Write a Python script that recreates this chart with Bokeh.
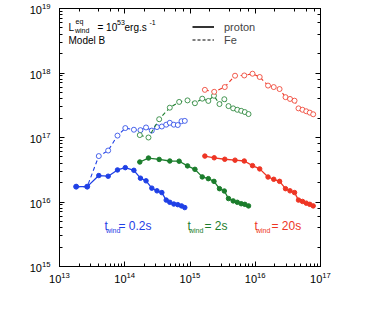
import math
from bokeh.plotting import figure
from bokeh.models import (Range1d, LogAxis, Label, Legend, LegendItem,
                          CustomJSTickFormatter, LogTicker)
from bokeh.embed import file_html
from bokeh.resources import INLINE

# ---------------- data ----------------
# shock radius grids (cm)
r_02s = [1.80e13, 2.66e13, 4.00e13, 5.57e13, 7.74e13, 1.02e14, 1.38e14, 1.74e14, 2.12e14,
         2.60e14, 3.12e14, 3.70e14, 4.32e14, 4.90e14, 5.65e14, 6.50e14, 7.41e14, 8.32e14]
r_2s = [1.70e14, 2.31e14, 3.37e14, 4.90e14, 6.82e14, 9.16e14, 1.19e15, 1.54e15, 1.91e15,
        2.33e15, 2.83e15, 3.36e15, 3.89e15, 4.59e15, 5.31e15, 6.10e15, 6.92e15, 7.89e15]
r_20s = [1.69e15, 2.35e15, 3.41e15, 4.90e15, 6.79e15, 9.08e15, 1.17e16, 1.57e16, 1.92e16,
         2.36e16, 2.91e16, 3.41e16, 4.00e16, 4.60e16, 5.30e16, 6.05e16, 6.85e16, 7.73e16]

# E_max^loss (eV), proton
Ep_02s = [1.73e16, 1.73e16, 2.57e16, 2.51e16, 3.14e16, 3.41e16, 3.10e16, 2.34e16, 2.13e16,
          1.64e16, 1.49e16, 1.40e16, 1.07e16, 9.9e15, 9.3e15, 9.1e15, 8.7e15, 8.2e15]
Ep_2s = [4.17e16, 4.80e16, 4.57e16, 4.32e16, 4.29e16, 3.63e16, 3.21e16, 2.45e16, 2.30e16,
         2.09e16, 1.61e16, 1.48e16, 1.13e16, 1.04e16, 9.9e15, 9.4e15, 9.2e15, 8.7e15]
Ep_20s = [5.15e16, 4.85e16, 4.60e16, 4.45e16, 4.32e16, 3.66e16, 3.26e16, 2.44e16, 2.25e16,
          2.09e16, 1.61e16, 1.49e16, 1.40e16, 1.07e16, 1.02e16, 9.6e15, 9.2e15, 8.7e15]

# E_max^loss (eV), Fe
Efe_02s = [1.73e16, 1.73e16, 5.15e16, 6.28e16, 1.07e17, 1.40e17, 1.32e17, 1.30e17, 1.43e17,
           1.28e17, 1.45e17, 1.48e17, 1.58e17, 1.69e17, 1.58e17, 1.56e17, 1.79e17, 1.81e17]
Efe_2s = [1.09e17, 1.00e17, 1.92e17, 2.90e17, 3.56e17, 3.76e17, 3.40e17, 4.00e17, 3.69e17,
          4.44e17, 3.30e17, 3.92e17, 3.07e17, 2.83e17, 2.69e17, 2.59e17, 2.48e17, 2.31e17]
Efe_20s = [5.48e17, 5.11e17, 6.05e17, 9.08e17, 9.16e17, 9.75e17, 8.67e17, 6.38e17, 6.05e17,
           5.64e17, 4.22e17, 3.96e17, 3.72e17, 2.83e17, 2.69e17, 2.55e17, 2.43e17, 2.29e17]

series_names = ["0.2s", "2s", "20s"]
legend_labels = ["proton", "Fe"]

# ---------------- layout (page pixels) ----------------
FL, FT, FW, FH = 67, 16, 261, 258   # frame left/top/width/height on the page
FONT = "Liberation Sans"
BLUE, GREEN, RED = "#1f40e6", "#1b7d2c", "#ee3524"

p = figure(x_axis_type="log", y_axis_type="log",
           x_range=Range1d(1e13, 1e17), y_range=Range1d(1e15, 1e19),
           width=350, height=309,
           min_border_left=FL - 8, min_border_right=30, min_border_top=FT - 8,
           min_border_bottom=309 - (FT - 8) - FH,
           output_backend="svg", toolbar_location=None)
p.xgrid.visible = False
p.ygrid.visible = False
p.outline_line_color = "black"
p.background_fill_color = "white"
p.border_fill_color = "white"

def style_axis(ax, labels=True):
    ax.axis_line_color = "black"
    ax.major_tick_in = 5
    ax.major_tick_out = 0
    ax.minor_tick_in = 3
    ax.minor_tick_out = 0
    ax.major_tick_line_color = "black"
    ax.minor_tick_line_color = "black"
    if labels:
        ax.major_label_text_font = FONT
        ax.major_label_text_font_size = "11px"
        ax.major_label_text_color = "black"
    else:
        ax.formatter = CustomJSTickFormatter(code="return ''")
        ax.major_label_text_font_size = "0px"
        ax.major_label_standoff = 0

style_axis(p.xaxis[0])
style_axis(p.yaxis[0])
p.xaxis[0].major_label_standoff = 5
p.yaxis[0].major_label_standoff = 9

top = LogAxis(ticker=LogTicker())
right = LogAxis(ticker=LogTicker())
style_axis(top, labels=False)
style_axis(right, labels=False)
p.add_layout(top, "above")
p.add_layout(right, "right")

# ---------------- curves ----------------
groups = [(r_02s, Ep_02s, Efe_02s, BLUE), (r_2s, Ep_2s, Efe_2s, GREEN), (r_20s, Ep_20s, Efe_20s, RED)]
for r, ep, efe, col in groups:
    p.line(r, efe, line_color=col, line_width=1.1, line_dash="4 3")
    p.scatter(r, efe, marker="circle", size=5, fill_color="white", line_color=col, line_width=0.8)
for r, ep, efe, col in groups:
    p.line(r, ep, line_color=col, line_width=1.3)
    p.scatter(r, ep, marker="circle", size=4.5, fill_color=col, line_color=col)

# legend (renderers hold a single NaN so nothing is drawn in the plot)
nan = float("nan")
lp = p.line([nan], [nan], line_color="black", line_width=1.6)
lf = p.line([nan], [nan], line_color="black", line_width=1.2, line_dash="3 2")
legend = Legend(items=[LegendItem(label=legend_labels[0], renderers=[lp]),
                       LegendItem(label=legend_labels[1], renderers=[lf])],
                location=(133, FH - 12 - 26), glyph_width=22, glyph_height=13, label_height=13,
                label_standoff=10, spacing=0, padding=0, margin=0,
                border_line_color=None, background_fill_alpha=0,
                label_text_font=FONT, label_text_font_size="11px")
p.add_layout(legend, "center")

# ---------------- texts ----------------
def dx(px):
    return 10 ** (13 + 4 * (px - FL) / FW)

def dy(py):
    return 10 ** (19 - 4 * (py - FT) / FH)

def lab(px, py, text, size, color="black", angle=0.0):
    p.add_layout(Label(x=dx(px), y=dy(py), text=text, text_font=FONT,
                       text_font_size=f"{size}px", text_color=color,
                       text_align="left", text_baseline="alphabetic", angle=angle))

# wind luminosity / model
lab(76, 35, "L", 10)
lab(82.5, 38, "wind", 7)
lab(83, 29, "eq", 7)
lab(105, 35, "= 10", 10)
lab(124.5, 30, "53", 7)
lab(132, 35, "erg.s", 10)
lab(157, 30, "-1", 7)
lab(76, 48, "Model B", 10)

# wind time labels
for (tx, ex, txt, col) in [(112, 126, "= " + series_names[0], BLUE),
                           (195, 212, "= " + series_names[1], GREEN),
                           (262, 279, "= " + series_names[2], RED)]:
    lab(tx, 233, "t", 12, col)
    lab(tx + 1.5, 238, "wind", 7, col)
    lab(ex, 233, txt, 12, col)

# axis titles
lab(177, 308, "r", 12)
lab(181, 313, "sh", 8)
lab(197, 308, "(cm)", 11)

rot = math.pi / 2
lab(22, 190, "E", 13, angle=rot)
lab(26.5, 178.5, "max", 8, angle=rot)
lab(18, 170, "loss", 7.5, angle=rot)
lab(19.5, 136, "(eV)", 11, angle=rot)

open("out.html", "w").write(file_html(p, INLINE))
